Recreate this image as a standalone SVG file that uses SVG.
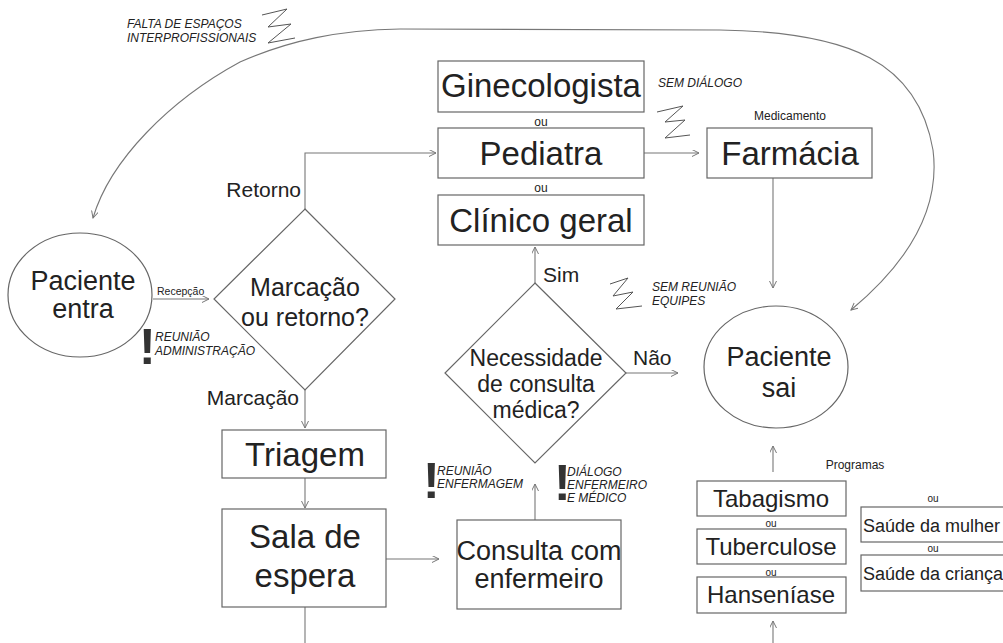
<svg xmlns="http://www.w3.org/2000/svg" width="1003" height="643" viewBox="0 0 1003 643">
<defs>
<marker id="arr" markerUnits="userSpaceOnUse" markerWidth="10" markerHeight="10" refX="7" refY="3.5" orient="auto-start-reverse">
<path d="M0,0 L7,3.5 L0,7" fill="none" stroke="#777" stroke-width="1"/>
</marker>
<style>
text{font-family:"Liberation Sans",Arial,sans-serif;fill:#222}
.box{fill:#fff;stroke:#666;stroke-width:1.2}
.big{font-size:33px;text-anchor:middle}
.mid{font-size:27px;text-anchor:middle}
.dia{font-size:25px;text-anchor:middle}
.dia2{font-size:23px;text-anchor:middle}
.prog{font-size:24px;text-anchor:middle}
.lab{font-size:21px}
.sm{font-size:12px;text-anchor:middle}
.xs{font-size:10px;text-anchor:middle}
.it{font-size:12px;font-style:italic}
.ex{font-size:50px;font-weight:bold;fill:#333}
.con{fill:none;stroke:#777;stroke-width:1.1;marker-end:url(#arr)}
.plain{fill:none;stroke:#777;stroke-width:1.1}
.zz{fill:none;stroke:#555;stroke-width:1}
</style>
</defs>
<rect width="1003" height="643" fill="#fff"/>

<g id="connectors">
<path class="con" d="M153,299 H209"/>
<path class="con" d="M305,209 V153 H436"/>
<path class="con" d="M305,390 V428"/>
<path class="con" d="M305,478 V508"/>
<path class="plain" d="M305,607 V643"/>
<path class="con" d="M386,559 H439"/>
<path class="con" d="M535,520 V484"/>
<path class="con" d="M535,283 V247"/>
<path class="con" d="M626,373 H678"/>
<path class="con" d="M644,153 H699"/>
<path class="con" d="M773,178 V288"/>
<path class="con" d="M773,472 V446"/>
<path class="con" d="M773,643 V621"/>
<path class="con" style="marker-start:url(#arr)" d="M93,218 C110,160 170,100 240,62 C290,40 340,30 400,29 L720,30 C850,32 918,62 933,150 C941,212 905,265 851,310"/>
</g>

<g id="paciente-entra">
<ellipse cx="80" cy="295" rx="72" ry="62" fill="#fff" stroke="#666" stroke-width="1.2"/>
<text class="mid" x="83" y="290">Paciente</text>
<text class="mid" x="83" y="318">entra</text>
</g>
<text id="recepcao" x="157" y="295" style="font-size:10.5px">Recepção</text>

<g id="marcacao-retorno">
<polygon points="305,209 395,299 305,390 214,299" fill="#fff" stroke="#666" stroke-width="1.2"/>
<text class="dia" x="305" y="296">Marcação</text>
<text class="dia" x="305" y="326">ou retorno?</text>
</g>
<text class="lab" x="301" y="197" text-anchor="end">Retorno</text>
<text class="lab" x="299" y="405" text-anchor="end">Marcação</text>

<g id="ginecologista">
<rect class="box" x="438" y="61" width="206" height="51"/>
<text class="big" x="541" y="97">Ginecologista</text>
</g>
<text class="sm" x="541" y="126">ou</text>
<g id="pediatra">
<rect class="box" x="438" y="128" width="206" height="50"/>
<text class="big" x="541" y="165">Pediatra</text>
</g>
<text class="sm" x="541" y="192">ou</text>
<g id="clinico-geral">
<rect class="box" x="438" y="195" width="206" height="50"/>
<text class="big" x="541" y="232">Clínico geral</text>
</g>

<g id="farmacia">
<rect class="box" x="707" y="128" width="165" height="50"/>
<text class="big" x="790" y="165">Farmácia</text>
</g>
<text class="sm" x="790" y="120">Medicamento</text>

<g id="necessidade">
<polygon points="535,283 626,373 535,463 445,373" fill="#fff" stroke="#666" stroke-width="1.2"/>
<text class="dia2" x="536" y="366">Necessidade</text>
<text class="dia2" x="536" y="392">de consulta</text>
<text class="dia2" x="536" y="418">médica?</text>
</g>
<text class="lab" x="543" y="282">Sim</text>
<text class="lab" x="633" y="365">Não</text>

<g id="paciente-sai">
<ellipse cx="776" cy="367" rx="72" ry="61" fill="#fff" stroke="#666" stroke-width="1.2"/>
<text class="mid" x="779" y="366">Paciente</text>
<text class="mid" x="779" y="397">sai</text>
</g>

<g id="triagem">
<rect class="box" x="222" y="430" width="164" height="48"/>
<text class="big" x="305" y="466">Triagem</text>
</g>
<g id="sala-espera">
<rect class="box" x="222" y="509" width="164" height="98"/>
<text class="big" x="305" y="548">Sala de</text>
<text class="big" x="305" y="587">espera</text>
</g>
<g id="consulta-enfermeiro">
<rect class="box" x="457" y="520" width="164" height="89"/>
<text class="mid" x="539" y="560">Consulta com</text>
<text class="mid" x="539" y="588">enfermeiro</text>
</g>

<text class="sm" x="855" y="469">Programas</text>
<g id="tabagismo">
<rect class="box" x="697" y="481" width="149" height="35"/>
<text class="prog" x="771" y="507">Tabagismo</text>
</g>
<text class="xs" x="771" y="527">ou</text>
<g id="tuberculose">
<rect class="box" x="697" y="529" width="149" height="35"/>
<text class="prog" x="771" y="555">Tuberculose</text>
</g>
<text class="xs" x="771" y="576">ou</text>
<g id="hanseniase">
<rect class="box" x="697" y="577" width="149" height="36"/>
<text class="prog" x="771" y="603">Hanseníase</text>
</g>
<text class="xs" x="933" y="502">ou</text>
<g id="saude-mulher">
<rect class="box" x="861" y="507" width="150" height="35"/>
<text x="863" y="532" style="font-size:18px">Saúde da mulher</text>
</g>
<text class="xs" x="933" y="552">ou</text>
<g id="saude-crianca">
<rect class="box" x="861" y="555" width="150" height="36"/>
<text x="863" y="580" style="font-size:18px">Saúde da criança</text>
</g>

<g id="annotations">
<text class="it" x="127" y="28">FALTA DE ESPAÇOS</text>
<text class="it" x="127" y="42">INTERPROFISSIONAIS</text>
<polyline class="zz" points="262,15 287,9 268,27 291,24 268,43 295,38"/>

<text class="it" x="658" y="87">SEM DIÁLOGO</text>
<polyline class="zz" points="657,112 683,106 665,122 685,120 665,138 690,135"/>

<text class="it" x="652" y="291">SEM REUNIÃO</text>
<text class="it" x="652" y="305">EQUIPES</text>
<polyline class="zz" points="610,284 628,278 613,296 633,292 616,309 642,306"/>

<text class="ex" x="139" y="364">!</text>
<text class="it" x="155" y="341">REUNIÃO</text>
<text class="it" x="155" y="355">ADMINISTRAÇÃO</text>

<text class="ex" x="423" y="498">!</text>
<text class="it" x="437" y="475">REUNIÃO</text>
<text class="it" x="437" y="488">ENFERMAGEM</text>

<text class="ex" x="554" y="500">!</text>
<text class="it" x="567" y="476">DIÁLOGO</text>
<text class="it" x="567" y="489">ENFERMEIRO</text>
<text class="it" x="567" y="502">E MÉDICO</text>
</g>
</svg>
